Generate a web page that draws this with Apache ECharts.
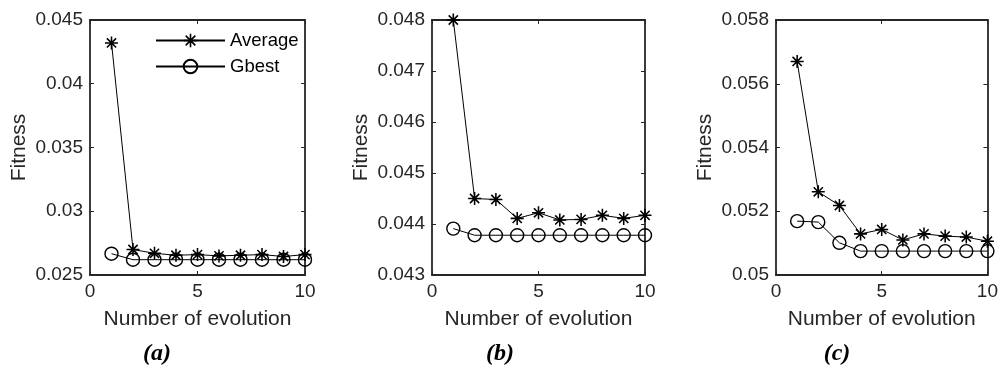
<!DOCTYPE html>
<html>
<head>
<meta charset="utf-8">
<script src="https://cdn.jsdelivr.net/npm/echarts@6/dist/echarts.min.js"></script>
<style>
  html, body { margin: 0; padding: 0; background: #fff; }
  #main { width: 1001px; height: 369px; }
</style>
</head>
<body>
<div id="main"></div>
<script>
// generations on the x axis
var gens = [1, 2, 3, 4, 5, 6, 7, 8, 9, 10];

// panel (a)
var avgA = [0.0432, 0.0270, 0.0267, 0.02655, 0.0266, 0.0265, 0.02655, 0.0266, 0.02645, 0.0266];
var gbestA = [0.02667, 0.0262, 0.0262, 0.0262, 0.0262, 0.0262, 0.0262, 0.0262, 0.0262, 0.0262];
// panel (b)
var avgB = [0.0480, 0.04450, 0.04448, 0.04411, 0.04422, 0.04408, 0.04409, 0.04417, 0.04411, 0.04417];
var gbestB = [0.04391, 0.04378, 0.04378, 0.04378, 0.04378, 0.04378, 0.04378, 0.04378, 0.04378, 0.04378];
// panel (c)
var avgC = [0.0567, 0.05261, 0.05218, 0.05129, 0.05143, 0.05110, 0.05129, 0.05122, 0.05119, 0.05106];
var gbestC = [0.05169, 0.05166, 0.05101, 0.05075, 0.05075, 0.05075, 0.05075, 0.05075, 0.05075, 0.05075];

// y axis [min, max, step] per panel
var yAxisA = [0.025, 0.045, 0.005];
var yAxisB = [0.043, 0.048, 0.001];
var yAxisC = [0.050, 0.058, 0.002];
var xTicks = [0, 10, 5];

var captions = ['(a)', '(b)', '(c)'];
var seriesNames = ['Average', 'Gbest'];

var axisCol = '#262626';
var font = 'Liberation Sans, Arial, sans-serif';

// MATLAB style asterisk
var star = 'path://M-1.2,-10L1.2,-10L1.2,10L-1.2,10Z' +
  'M-10,-1.2L10,-1.2L10,1.2L-10,1.2Z' +
  'M-6.22,-7.92L7.92,6.22L6.22,7.92L-7.92,-6.22Z' +
  'M-6.22,7.92L-7.92,6.22L6.22,-7.92L7.92,-6.22Z';

var panels = [
  { left: 90, width: 215, y: yAxisA, avg: avgA, gb: gbestA, cap: 157 },
  { left: 432, width: 213, y: yAxisB, avg: avgB, gb: gbestB, cap: 500 },
  { left: 776, width: 214, y: yAxisC, avg: avgC, gb: gbestC, cap: 837 }
];

function pairs(ys) {
  return gens.map(function (g, i) { return [g, ys[i]]; });
}

function axisLine() {
  return { show: true, onZero: false, lineStyle: { color: axisCol, width: 1.8 } };
}
function axisTick() {
  return { show: true, inside: true, length: 4, lineStyle: { color: axisCol } };
}

var grid = [], xAxis = [], yAxis = [], series = [], title = [];

panels.forEach(function (p, i) {
  grid.push({ left: p.left, width: p.width, top: 20, height: 255 });

  xAxis.push({
    type: 'value', gridIndex: i, position: 'bottom',
    min: xTicks[0], max: xTicks[1], interval: xTicks[2],
    splitLine: { show: false }, axisLine: axisLine(), axisTick: axisTick(),
    name: 'Number of evolution', nameLocation: 'middle', nameGap: 34,
    nameTextStyle: { fontFamily: font, fontSize: 21, color: axisCol },
    axisLabel: { fontFamily: font, fontSize: 19, color: axisCol, margin: 7 }
  });
  xAxis.push({
    type: 'value', gridIndex: i, position: 'top',
    min: xTicks[0], max: xTicks[1], interval: xTicks[2],
    splitLine: { show: false }, axisLine: axisLine(), axisTick: axisTick(),
    axisLabel: { show: false }
  });

  yAxis.push({
    type: 'value', gridIndex: i, position: 'left',
    min: p.y[0], max: p.y[1], interval: p.y[2],
    splitLine: { show: false }, axisLine: axisLine(), axisTick: axisTick(),
    name: 'Fitness', nameLocation: 'middle', nameGap: 60,
    nameTextStyle: { fontFamily: font, fontSize: 21, color: axisCol },
    axisLabel: { fontFamily: font, fontSize: 19, color: axisCol, margin: 7 }
  });
  yAxis.push({
    type: 'value', gridIndex: i, position: 'right',
    min: p.y[0], max: p.y[1], interval: p.y[2],
    splitLine: { show: false }, axisLine: axisLine(), axisTick: axisTick(),
    axisLabel: { show: false }
  });

  series.push({
    name: seriesNames[0], type: 'line', xAxisIndex: i * 2, yAxisIndex: i * 2,
    data: pairs(p.avg), symbol: star, symbolSize: 13, clip: false,
    lineStyle: { color: '#000', width: 1 },
    itemStyle: { color: '#000' }
  });
  series.push({
    name: seriesNames[1], type: 'line', xAxisIndex: i * 2, yAxisIndex: i * 2,
    data: pairs(p.gb), symbol: 'circle', symbolSize: 13, clip: false,
    lineStyle: { color: '#000', width: 1 },
    itemStyle: { color: 'rgba(0,0,0,0)', borderColor: '#000', borderWidth: 1.4 }
  });

  title.push({
    text: captions[i], left: p.cap, top: 342, textAlign: 'center', padding: 0,
    textStyle: { fontFamily: 'Liberation Serif, serif', fontStyle: 'italic', fontWeight: 'bold', fontSize: 24, color: '#000' }
  });
});

var chart = echarts.init(document.getElementById('main'));
chart.setOption({
  animation: false,
  backgroundColor: '#fff',
  title: title,
  grid: grid,
  xAxis: xAxis,
  yAxis: yAxis,
  legend: {
    data: seriesNames, orient: 'vertical', left: 155, top: 31, padding: 0,
    itemWidth: 69, itemHeight: 17, itemGap: 7,
    textStyle: { fontFamily: font, fontSize: 18.5, color: '#000' }
  },
  series: series
});
</script>
</body>
</html>
